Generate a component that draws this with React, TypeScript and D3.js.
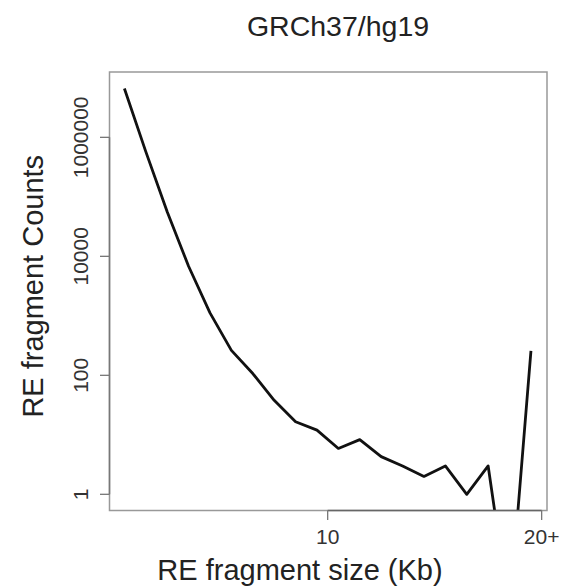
import React from "react";
import * as d3 from "d3";

const sizes = [0.5, 1.5, 2.5, 3.5, 4.5, 5.5, 6.5, 7.5, 8.5, 9.5, 10.5, 11.5, 12.5, 13.5, 14.5, 15.5, 16.5, 17.5, 18.5, 19.5];
const counts = [6600000, 575000, 56000, 6800, 1120, 263, 107, 38, 16.6, 12, 5.9, 8.3, 4.3, 3, 2, 3, 1, 3, 0.01, 257];
const xTicks = [10, 20];
const xTickLabels = ["10", "20+"];
const yTicks = [1, 100, 10000, 1000000];
const yTickLabels = ["1", "100", "10000", "1000000"];
const title = "GRCh37/hg19";
const xLabel = "RE fragment size (Kb)";
const yLabel = "RE fragment Counts";

const W = 564;
const H = 587;
const left = 109.5;
const right = 547;
const top = 72;
const bottom = 510.5;

export default function App() {
  const x = d3.scaleLinear().domain([-0.196, 20.25]).range([left, right]);
  const y = d3.scaleLog().domain([Math.pow(10, -0.272), Math.pow(10, 7.098)]).range([bottom, top]);
  const data = sizes.map((s, i) => [s, counts[i]] as [number, number]);
  const line = d3.line<[number, number]>().x(d => x(d[0])).y(d => y(d[1]));
  const font = "'Liberation Sans', Arial, Helvetica, sans-serif";
  return (
    <svg width={W} height={H} style={{ position: "absolute", left: 0, top: 0, background: "#fff" }} fontFamily={font}>
      <defs>
        <clipPath id="plotclip">
          <rect x={left} y={top} width={right - left} height={bottom - top} />
        </clipPath>
      </defs>
      <rect x={0} y={0} width={W} height={H} fill="#fff" />
      <text x={338} y={35.5} textAnchor="middle" fontSize={28.5} fill="#222">{title}</text>
      <rect x={left} y={top} width={right - left} height={bottom - top} fill="none" stroke="#999" strokeWidth={1.5} />
      <path d={line(data) || ""} fill="none" stroke="#111" strokeWidth={2.8} strokeLinejoin="round" clipPath="url(#plotclip)" />
      {/* x axis */}
      <line x1={x(xTicks[0])} x2={x(xTicks[xTicks.length - 1])} y1={bottom} y2={bottom} stroke="#666" strokeWidth={1.6} />
      {xTicks.map((t, i) => (
        <g key={"xt" + i}>
          <line x1={x(t)} x2={x(t)} y1={bottom} y2={bottom + 9.5} stroke="#777" strokeWidth={1.3} />
          <text x={x(t)} y={544} textAnchor="middle" fontSize={21} fill="#333">{xTickLabels[i]}</text>
        </g>
      ))}
      {/* y axis */}
      <line x1={left} x2={left} y1={y(yTicks[0])} y2={y(yTicks[yTicks.length - 1])} stroke="#777" strokeWidth={1.5} />
      {yTicks.map((t, i) => (
        <g key={"yt" + i}>
          <line x1={left - 9.5} x2={left} y1={y(t)} y2={y(t)} stroke="#777" strokeWidth={1.3} />
          <text transform={`translate(88.3,${y(t)}) rotate(-90)`} textAnchor="middle" fontSize={21} fill="#333">{yTickLabels[i]}</text>
        </g>
      ))}
      <text x={300} y={580} textAnchor="middle" fontSize={29} fill="#222">{xLabel}</text>
      <text transform={`translate(43,${(top + bottom) / 2 - 5}) rotate(-90)`} textAnchor="middle" fontSize={29} fill="#222">{yLabel}</text>
    </svg>
  );
}
